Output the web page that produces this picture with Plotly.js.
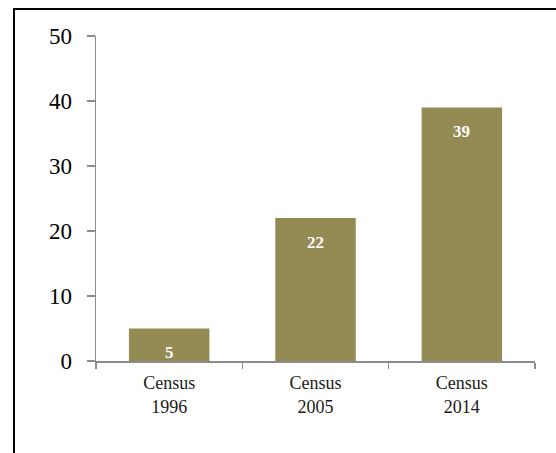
<!DOCTYPE html>
<html><head><meta charset="utf-8">
<script src="https://cdn.plot.ly/plotly-3.0.1.min.js"></script>
<style>
html,body{margin:0;padding:0;background:#fff;}
#frame{position:absolute;left:13px;top:8px;width:543px;height:445px;border-left:2px solid #000;border-top:2px solid #000;box-sizing:border-box;}
#chart{position:absolute;left:0;top:0;width:556px;height:453px;}
</style></head>
<body>
<div id="frame"></div>
<div id="chart"></div>
<script>
var categories = ["Census<br>1996", "Census<br>2005", "Census<br>2014"];
var values = [5, 22, 39];
var yTicks = [0, 10, 20, 30, 40, 50];

var barColor = "#948A54";
var trace = {
  type: "bar",
  x: categories,
  y: values,
  marker: {color: barColor, line: {width: 0}},
  hoverinfo: "none"
};
var annotations = values.map(function(v, i){
  return {x: categories[i], y: v, xref: "x", yref: "y", text: "<b>" + v + "</b>",
    showarrow: false, yshift: -24, font: {family: "Liberation Serif, serif", size: 17, color: "#fff"}};
});
var layout = {
  width: 556, height: 453,
  margin: {l: 96, r: 21, t: 36, b: 92},
  paper_bgcolor: "rgba(0,0,0,0)", plot_bgcolor: "rgba(0,0,0,0)",
  showlegend: false,
  bargap: 0.45,
  font: {family: "Liberation Serif, serif", color: "#000"},
  xaxis: {
    showline: true, linecolor: "#8c8c8c", linewidth: 1.5,
    ticks: "outside", tickson: "boundaries", ticklen: 6, tickcolor: "#8c8c8c", tickwidth: 1.5,
    tickfont: {size: 18, color: "#1a1a1a"}, showgrid: false, zeroline: false,
    ticklabelstandoff: 5
  },
  yaxis: {
    range: [0, 50], tickvals: yTicks, showline: true, linecolor: "#8c8c8c", linewidth: 1.5,
    ticks: "outside", ticklen: 8, tickcolor: "#8c8c8c", tickwidth: 1.5,
    tickfont: {size: 23, color: "#000"}, showgrid: false, zeroline: false,
    ticklabelstandoff: 10
  },
  annotations: annotations
};
Plotly.newPlot("chart", [trace], layout, {staticPlot: true, displayModeBar: false});
</script>
</body></html>
